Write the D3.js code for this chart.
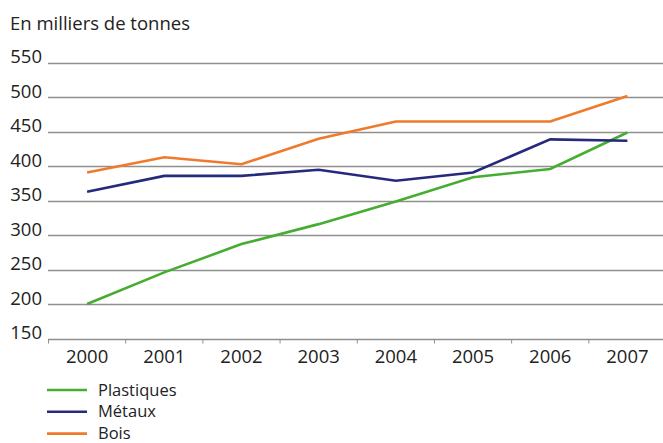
<!DOCTYPE html>
<html><head><meta charset="utf-8">
<script src="https://cdn.jsdelivr.net/npm/d3@7"></script>
<style>
html,body{margin:0;padding:0;background:#fff;}
text{font-family:"Open Sans","Liberation Sans",sans-serif;fill:#222;}
</style></head>
<body><svg id="c" width="663" height="443"></svg>
<script>
const years = ["2000","2001","2002","2003","2004","2005","2006","2007"];
const plastiques = [200, 246, 287, 316, 349, 384, 396, 449];
const metaux = [363, 386, 386, 395, 379, 391, 439, 437];
const bois = [391, 413, 403, 440, 465, 465, 465, 502];
const yTicks = [150, 200, 250, 300, 350, 400, 450, 500, 550];
const seriesNames = ["Plastiques", "Métaux", "Bois"];
const seriesColors = ["#45ad30", "#262a7c", "#f07a2c"];
const title = "En milliers de tonnes";

const svg = d3.select("#c");
const x = d3.scaleBand().domain(years).range([48.5, 666]);
const y = d3.scaleLinear().domain([150, 550]).range([338.5, 62.9]);

svg.append("text").attr("x", 10).attr("y", 30).attr("font-size", 18.5).text(title);

// gridlines
svg.append("g").selectAll("line").data(yTicks.filter(d => d > 150)).join("line")
  .attr("x1", 48).attr("x2", 663)
  .attr("y1", d => Math.round(y(d)) + 0.5).attr("y2", d => Math.round(y(d)) + 0.5)
  .attr("stroke", "#8f8f8f").attr("stroke-width", 1.3);

// y labels
svg.append("g").selectAll("text").data(yTicks).join("text")
  .attr("x", 42).attr("y", d => y(d) + 0.5).attr("text-anchor", "end")
  .attr("font-size", 18.5).text(d => d);

// x axis
const gx = svg.append("g").attr("transform", `translate(0,${Math.round(y(150)) + 0.5})`);
gx.append("line").attr("x1", 48).attr("x2", 663).attr("stroke", "#8f8f8f").attr("stroke-width", 1.3);
gx.selectAll("line.tk").data(years).join("line").attr("class", "tk")
  .attr("x1", d => x(d)).attr("x2", d => x(d)).attr("y1", 0).attr("y2", 4)
  .attr("stroke", "#8f8f8f").attr("stroke-width", 1);
gx.selectAll("text.yl").data(years).join("text").attr("class", "yl")
  .attr("x", d => x(d) + x.bandwidth() / 2).attr("y", 23)
  .attr("text-anchor", "middle").attr("font-size", 18.5).text(d => d);

// lines
const data = [plastiques, metaux, bois];
const line = d3.line().x((d, i) => x(years[i]) + x.bandwidth() / 2).y(d => y(d));
svg.append("g").selectAll("path").data(data).join("path")
  .attr("d", line).attr("fill", "none")
  .attr("stroke", (d, i) => seriesColors[i]).attr("stroke-width", 2.6)
  .attr("stroke-linejoin", "miter");

// legend
const lg = svg.append("g").selectAll("g").data(seriesNames).join("g")
  .attr("transform", (d, i) => `translate(0,${390 + i * 21.8})`);
lg.append("line").attr("x1", 47).attr("x2", 87).attr("y1", 0).attr("y2", 0)
  .attr("stroke", (d, i) => seriesColors[i]).attr("stroke-width", 2.6);
lg.append("text").attr("x", 98).attr("y", 5.5).attr("font-size", 16.5).text(d => d);
</script></body></html>
